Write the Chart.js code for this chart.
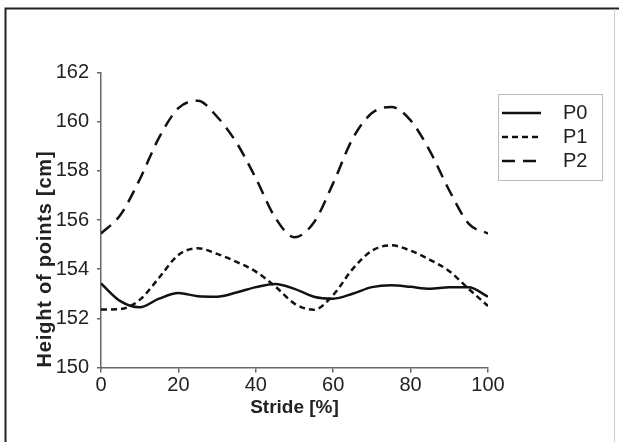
<!DOCTYPE html>
<html>
<head>
<meta charset="utf-8">
<script src="https://cdn.jsdelivr.net/npm/chart.js@4/dist/chart.umd.min.js"></script>
<style>
  body { margin: 0; background: #fff; }
  #wrap { position: relative; width: 619px; height: 442px; }
</style>
</head>
<body>
<div id="wrap"><canvas id="c" width="619" height="442"></canvas></div>
<script>
// stride [%] and heights [cm]
const stride = [0, 5, 10, 15, 20, 25, 30, 35, 40, 45, 50, 55, 60, 65, 70, 75, 80, 85, 90, 95, 100];
const p0 = [153.42, 152.7, 152.45, 152.8, 153.03, 152.9, 152.88, 153.05, 153.27, 153.4, 153.2,
            152.88, 152.8, 153.0, 153.27, 153.35, 153.28, 153.2, 153.26, 153.26, 152.88];
const p1 = [152.36, 152.38, 152.75, 153.65, 154.58, 154.85, 154.62, 154.3, 153.9, 153.3, 152.6,
            152.35, 152.95, 154.0, 154.75, 154.97, 154.75, 154.38, 153.92, 153.2, 152.5];
const p2 = [155.45, 156.2, 157.65, 159.35, 160.55, 160.85, 160.2, 159.15, 157.7, 156.1, 155.3,
            155.9, 157.5, 159.3, 160.35, 160.6, 160.05, 158.8, 157.2, 155.85, 155.45];
const names = ['P0', 'P1', 'P2'];
const dashes = [[], [6, 4], [13, 8]];
const xTicks = [0, 20, 40, 60, 80, 100];
const yTicks = [150, 152, 154, 156, 158, 160, 162];

const ink = '#111';
const axisCol = '#666';

function mk(vals, i) {
    return {
        label: names[i],
        data: vals.map((v, k) => ({ x: stride[k], y: v })),
        borderColor: ink,
        borderWidth: 2.5,
        borderDash: dashes[i],
        pointRadius: 0,
        fill: false,
        cubicInterpolationMode: 'monotone'
    };
}

// frame, rotated y title and the boxed legend
const extras = {
    id: 'extras',
    beforeDraw(ch) {
        let c = ch.ctx;
        c.save();
        c.strokeStyle = '#222';
        c.lineWidth = 2;
        c.beginPath();
        c.moveTo(5.5, 442); c.lineTo(5.5, 8.5); c.lineTo(619, 8.5);
        c.stroke();
        c.strokeStyle = '#ccc';
        c.lineWidth = 1;
        c.beginPath();
        c.moveTo(614.5, 9); c.lineTo(614.5, 442);
        c.stroke();
        c.restore();
    },
    afterDraw(ch) {
        let c = ch.ctx;
        c.save();
        c.fillStyle = '#222';
        c.font = 'bold 20px "Liberation Sans", Arial, sans-serif';
        c.letterSpacing = '0.8px';
        c.textAlign = 'center';
        c.textBaseline = 'middle';
        c.translate(45, 259);
        c.rotate(-Math.PI / 2);
        c.fillText('Height of points [cm]', 0, 0);
        c.restore();

        c.save();
        c.strokeStyle = '#bbb';
        c.lineWidth = 1;
        c.strokeRect(498.5, 94.5, 104, 86);
        c.font = '20px "Liberation Sans", Arial, sans-serif';
        c.textBaseline = 'middle';
        c.fillStyle = '#222';
        ch.data.datasets.forEach((ds, i) => {
            let y = 113 + i * 24;
            c.strokeStyle = ds.borderColor;
            c.lineWidth = ds.borderWidth;
            c.setLineDash(ds.borderDash);
            c.beginPath();
            c.moveTo(502, y); c.lineTo(541, y);
            c.stroke();
            c.setLineDash([]);
            c.fillText(ds.label, 563, y);
        });
        c.restore();
    }
};

new Chart(document.getElementById('c'), {
    type: 'line',
    data: { datasets: [mk(p0, 0), mk(p1, 1), mk(p2, 2)] },
    options: {
        responsive: false,
        animation: false,
        layout: { padding: { top: 72.5, right: 131, left: 0, bottom: 0 } },
        plugins: { legend: { display: false }, tooltip: { enabled: false } },
        scales: {
            x: {
                type: 'linear',
                min: 0, max: 100,
                afterBuildTicks: s => { s.ticks = xTicks.map(v => ({ value: v })); },
                afterFit: s => { s.height = 74.5; },
                grid: { drawOnChartArea: false, drawTicks: true, tickLength: 5, color: axisCol, lineWidth: 1.5 },
                border: { display: true, color: axisCol, width: 1.5 },
                ticks: { color: '#222', padding: 1, maxRotation: 0, font: { family: '"Liberation Sans", Arial', size: 20 } },
                title: {
                    display: true, text: 'Stride [%]', color: '#222',
                    font: { family: '"Liberation Sans", Arial', size: 19, weight: 'bold' },
                    padding: { top: 0, bottom: 22.5 }
                }
            },
            y: {
                min: 150, max: 162,
                afterBuildTicks: s => { s.ticks = yTicks.map(v => ({ value: v })); },
                afterFit: s => { s.width = 101; },
                grid: { drawOnChartArea: false, drawTicks: true, tickLength: 4, color: axisCol, lineWidth: 1.5 },
                border: { display: true, color: axisCol, width: 1.5 },
                ticks: { color: '#222', padding: 8, font: { family: '"Liberation Sans", Arial', size: 20 } }
            }
        }
    },
    plugins: [extras]
});
</script>
</body>
</html>
